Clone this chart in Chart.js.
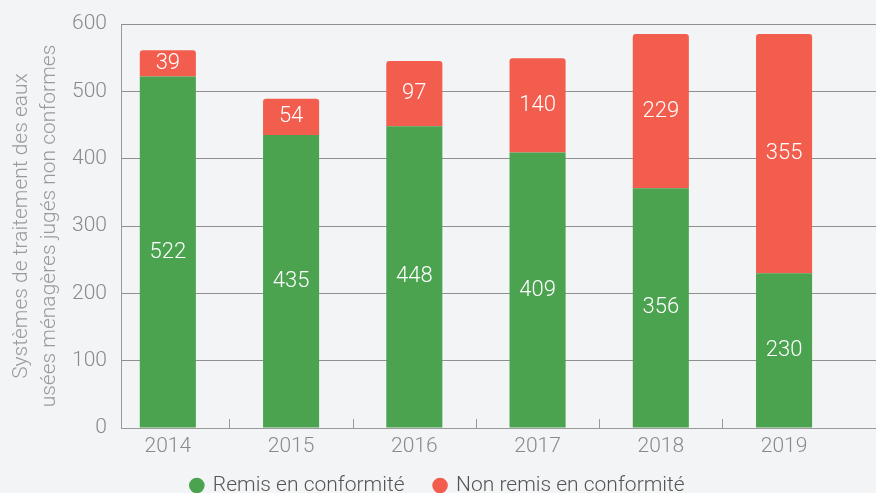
<!DOCTYPE html>
<html>
<head>
<meta charset="utf-8">
<script src="https://cdn.jsdelivr.net/npm/chart.js@4"></script>
<style>
	html, body { margin: 0; padding: 0; background: #f3f4f6; }
	#wrap { width: 876px; height: 493px; }
</style>
</head>
<body>
<div id="wrap"><canvas id="myChart"></canvas></div>
<script>
!(function(){
	'use strict';

	var years = ['2014', '2015', '2016', '2017', '2018', '2019'];
	var remis = [522, 435, 448, 409, 356, 230];
	var nonRemis = [39, 54, 97, 140, 229, 355];
	var yTicks = [0, 100, 200, 300, 400, 500, 600];

	var font = 'Roboto';

	// draw the numbers in the middle of each segment
	var barValues = {
		id: 'barValues',
		afterDatasetsDraw: function(chart){
			var ctx = chart.ctx;
			ctx.save();
			ctx.fillStyle = '#ffffff';
			ctx.font = '300 22px ' + font;
			ctx.textAlign = 'center';
			ctx.textBaseline = 'middle';
			chart.data.datasets.forEach(function(ds, i){
				chart.getDatasetMeta(i).data.forEach(function(bar, j){
					ctx.fillText(ds.data[j].y, bar.x, (bar.y + bar.base) / 2);
				});
			});
			ctx.restore();
		}
	};

	// little ticks between the years, inside the plot
	var midTicks = {
		id: 'midTicks',
		afterDraw: function(chart){
			var ctx = chart.ctx, x = chart.scales.x, bottom = chart.chartArea.bottom;
			ctx.save();
			ctx.strokeStyle = '#9a9a9a';
			ctx.lineWidth = 1;
			for (var i = 0; i < years.length - 1; i++) {
				var px = Math.round(x.getPixelForValue(i + 0.5)) + 0.5;
				ctx.beginPath();
				ctx.moveTo(px, bottom - 9);
				ctx.lineTo(px, bottom);
				ctx.stroke();
			}
			ctx.restore();
		}
	};

	// keep the legend short but with wide gaps between items
	var legendFit = {
		id: 'legendFit',
		beforeLayout: function(chart){
			var lg = chart.legend;
			if (lg && !lg._patched) {
				var fit = lg.fit;
				lg.fit = function(){
					fit.call(this);
					this.height = 48;
				};
				lg._patched = true;
			}
		}
	};

	function points(arr){
		return arr.map(function(v, i){ return { x: i, y: v }; });
	}

	var ctx = document.getElementById('myChart').getContext('2d');
	var myChart = new Chart(ctx, {
		type: 'bar',
		data: {
			datasets: [{
				label: 'Remis en conformité',
				data: points(remis),
				backgroundColor: '#4ba350',
				borderWidth: 0
			}, {
				label: 'Non remis en conformité',
				data: points(nonRemis),
				backgroundColor: '#f25d4d',
				borderWidth: 0,
				borderRadius: { topLeft: 3, topRight: 3, bottomLeft: 0, bottomRight: 0 },
				borderSkipped: false
			}]
		},
		plugins: [barValues, midTicks, legendFit],
		options: {
			responsive: true,
			maintainAspectRatio: false,
			animation: false,
			layout: { padding: { top: 24, right: 0, bottom: 0, left: 0 } },
			datasets: {
				bar: { categoryPercentage: 1, barPercentage: 0.455 }
			},
			scales: {
				x: {
					type: 'linear',
					stacked: true,
					offset: false,
					min: -0.38,
					max: 5.746,
					afterBuildTicks: function(scale){
						scale.ticks = years.map(function(y, i){ return { value: i }; });
					},
					afterFit: function(scale){
						scale.height = 17;
						scale.paddingLeft = 0;
						scale.paddingRight = 0;
						// labels hang below the short box, don't clip them
						scale._computeLabelArea = function(){};
					},
					ticks: {
						callback: function(v){ return years[v]; },
						color: '#8a8a8a',
						font: { family: font, size: 21, weight: '300' },
						padding: -2,
						maxRotation: 0,
						autoSkip: false
					},
					grid: { display: false },
					border: { display: true, color: '#9a9a9a', width: 1 }
				},
				y: {
					stacked: true,
					min: 0,
					max: 600,
					afterBuildTicks: function(scale){
						scale.ticks = yTicks.map(function(v){ return { value: v }; });
					},
					afterFit: function(scale){
						scale.width = 121;
						scale.paddingTop = 0;
						scale.paddingBottom = 0;
					},
					ticks: {
						color: '#8a8a8a',
						font: { family: font, size: 21, weight: '300' },
						padding: 14
					},
					grid: { color: '#8f8f8f', drawTicks: false },
					border: { display: true, color: '#9a9a9a' },
					title: {
						display: true,
						text: ['Systèmes de traitement des eaux', 'usées ménagères jugés non conformes'],
						color: '#9a9a9a',
						font: { family: font, size: 21, weight: '300', lineHeight: 1.33 },
						padding: { top: 8, bottom: 0 }
					}
				}
			},
			plugins: {
				legend: {
					position: 'bottom',
					labels: {
						usePointStyle: true,
						pointStyle: 'circle',
						boxWidth: 11,
						boxHeight: 11,
						padding: 30,
						color: '#555555',
						font: { family: font, size: 21, weight: '300' }
					}
				},
				tooltip: { enabled: false }
			}
		}
	});
})();
</script>
</body>
</html>
